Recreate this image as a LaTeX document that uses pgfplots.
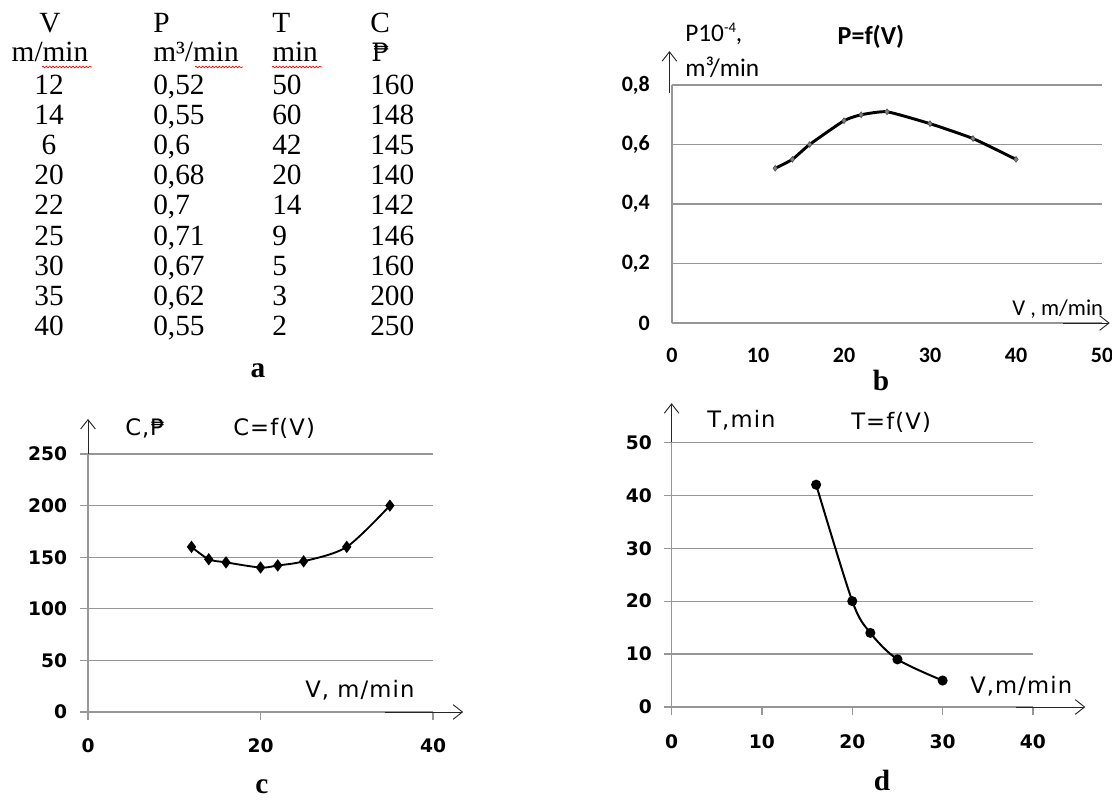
\documentclass[border=0pt]{standalone}
\usepackage{pgfplots}
\pgfplotsset{compat=1.18}
\usepackage{fontspec}
\setmainfont{Liberation Serif}
\newfontfamily\carl{Carlito}
\newfontfamily\dvs{DejaVu Sans}
\newfontfamily\dvsw{DejaVu Sans}[LetterSpace=5]
\newfontfamily\dvserif{DejaVu Serif}
\usetikzlibrary{arrows.meta,decorations.pathmorphing}

\definecolor{gridgray}{RGB}{150,150,150}

\pgfplotsset{
  panel/.style={
    scale only axis,
    anchor=south west,
    axis x line=bottom, axis y line=left,
    axis line style={-, gridgray, line width=0.9pt},
    ymajorgrids, major grid style={gridgray, line width=0.9pt},
    clip=false,
    tick style={gridgray, line width=0.9pt},
    tick align=outside,
    major tick length=6pt,
    /pgf/number format/assume math mode=true,
    xticklabel style={anchor=center, inner sep=0pt},
    yticklabel style={anchor=east, inner sep=0pt},
  },
}
\tikzset{arr/.style={black!85, line width=0.7pt, -{Straight Barb[length=7pt,width=11pt]}}}

\newcommand\tabfont{\fontsize{22}{22}\selectfont}
\newcommand\chfont{\dvsw\fontsize{17}{17}\selectfont}

\begin{document}
\begin{tikzpicture}
\useasboundingbox (0,0) rectangle (834pt,600.75pt);

% b: P = f(V)
\begin{axis}[panel, at={(504pt,358.5pt)},
  width=322.5pt, height=178.5pt,
  xmin=0, xmax=50, ymin=0, ymax=0.8,
  xtick={0,10,20,30,40,50}, ytick={0,0.2,0.4,0.6,0.8},
  major tick length=0pt,
  /pgf/number format/use comma, /pgf/number format/fixed,
  /pgf/number format/precision=1,
  xticklabel style={font=\carl\bfseries\fontsize{16.5}{16.5}\selectfont, yshift=-24.4pt},
  yticklabel style={font=\carl\bfseries\fontsize{16.5}{16.5}\selectfont, xshift=-16.5pt},
]
\addplot[black, line width=2.2pt, smooth, tension=0.3, mark=diamond*, mark size=2.2pt,
  mark options={fill=gray, draw=gray!60!black, line width=0.4pt}]
coordinates {
(12,0.52)
(14,0.55)
(16,0.6)
(20,0.68)
(22,0.7)
(25,0.71)
(30,0.67)
(35,0.62)
(40,0.55)
};
\draw[arr] (axis cs:-0.3,0.773) -- (axis cs:-0.3,0.914);
\draw[arr] (axis cs:45.5,0) -- (axis cs:50.9,0);
\end{axis}

% c: C = f(V)
\begin{axis}[panel, at={(66pt,66.75pt)},
  width=258.75pt, height=193.5pt,
  xmin=0, xmax=40, ymin=0, ymax=250,
  xtick={0,20,40}, ytick={0,50,100,150,200,250},
  xticklabel style={font=\dvs\bfseries\fontsize{14}{14}\selectfont, yshift=-19.25pt},
  yticklabel style={font=\dvs\bfseries\fontsize{14}{14}\selectfont, xshift=-9.5pt},
]
\addplot[black, line width=1.4pt, smooth, tension=0.5, mark=diamond*, mark size=3.5pt]
coordinates {
(12,160)
(14,148)
(16,145)
(20,140)
(22,142)
(25,146)
(30,160)
(35,200)
};
\draw[arr] (axis cs:0,250) -- (axis cs:0,284);
\draw[arr] (axis cs:34.4,0) -- (axis cs:43.5,0);
\end{axis}

% d: T = f(V)
\begin{axis}[panel, at={(503.7pt,70.5pt)},
  width=271pt, height=198.5pt,
  xmin=0, xmax=40, ymin=0, ymax=50,
  xtick={0,10,20,30,40}, ytick={0,10,20,30,40,50},
  xticklabel style={font=\dvs\bfseries\fontsize{14}{14}\selectfont, yshift=-20pt},
  yticklabel style={font=\dvs\bfseries\fontsize{14}{14}\selectfont, xshift=-8.7pt},
]
\addplot[black, line width=1.5pt, smooth, tension=0.5, mark=*, mark size=3pt]
coordinates {
(16,42)
(20,20)
(22,14)
(25,9)
(30,5)
};
\draw[arr] (axis cs:0,50) -- (axis cs:0,57.4);
\draw[arr] (axis cs:38.1,0) -- (axis cs:45.8,0);
\end{axis}

% texts, placed in pixel units (y downwards)
\begin{scope}[x=0.75pt, y=-0.75pt, yshift=600.75pt]
  % a: table
  \node[anchor=base, inner sep=0pt, font=\tabfont] at (50,33) {V};
  \node[anchor=base west, inner sep=0pt, font=\tabfont] at (153,33) {P};
  \node[anchor=base west, inner sep=0pt, font=\tabfont] at (272,33) {T};
  \node[anchor=base west, inner sep=0pt, font=\tabfont] at (370,33) {C};
  \node[anchor=base, inner sep=0pt, font=\tabfont] at (50,62) {m/min};
  \node[anchor=base west, inner sep=0pt, font=\tabfont] at (153,62) {m³/min};
  \node[anchor=base west, inner sep=0pt, font=\tabfont] at (272,62) {min};
  \node[anchor=base west, inner sep=0pt, font=\dvserif\fontsize{19}{19}\selectfont] at (371,62) {₱};
  \foreach \v/\p/\t/\c [count=\i from 0] in
    {12/{0,52}/50/160, 14/{0,55}/60/148, 6/{0,6}/42/145, 20/{0,68}/20/140,
     22/{0,7}/14/142, 25/{0,71}/9/146, 30/{0,67}/5/160, 35/{0,62}/3/200,
     40/{0,55}/2/250} {
    \node[anchor=base, inner sep=0pt, font=\tabfont] at (49,95+30*\i) {\v};
    \node[anchor=base west, inner sep=0pt, font=\tabfont] at (153,95+30*\i) {\p};
    \node[anchor=base west, inner sep=0pt, font=\tabfont] at (272,95+30*\i) {\t};
    \node[anchor=base west, inner sep=0pt, font=\tabfont] at (370,95+30*\i) {\c};
  }
  \foreach \a/\b in {42/92, 195/243, 272/322}
    \draw[red, line width=0.5pt, decorate,
      decoration={snake, amplitude=0.6pt, segment length=2.5pt}] (\a,67) -- (\b,67);
  \node[anchor=base, inner sep=0pt, font=\bfseries\fontsize{22}{22}\selectfont] at (258,377) {a};

  % b labels
  \node[anchor=base west, inner sep=0pt, font=\carl\fontsize{19}{19}\selectfont] at (685,42)
    {P10\raisebox{7pt}{\fontsize{11}{11}\selectfont -4},};
  \node[anchor=base west, inner sep=0pt, font=\carl\fontsize{19}{19}\selectfont] at (685,77) {m³/min};
  \node[anchor=base, inner sep=0pt, font=\carl\bfseries\fontsize{19.5}{19.5}\selectfont] at (871,45) {P=f(V)};
  \node[anchor=base west, inner sep=0pt, font=\carl\fontsize{17}{17}\selectfont] at (1012,315) {V , m/min};
  \node[anchor=base, inner sep=0pt, font=\bfseries\fontsize{22}{22}\selectfont] at (881,390) {b};

  % c labels
  \node[anchor=base west, inner sep=0pt, font=\chfont] at (125,435) {C,₱};
  \node[anchor=base west, inner sep=0pt, font=\chfont] at (233,435) {C=f(V)};
  \node[anchor=base west, inner sep=0pt, font=\chfont] at (305,697) {V, m/min};
  \node[anchor=base, inner sep=0pt, font=\bfseries\fontsize{22}{22}\selectfont] at (262,793) {c};

  % d labels
  \node[anchor=base west, inner sep=0pt, font=\chfont] at (707,427) {T,min};
  \node[anchor=base west, inner sep=0pt, font=\chfont] at (851,429) {T=f(V)};
  \node[anchor=base west, inner sep=0pt, font=\chfont] at (970,693.5) {V,m/min};
  \node[anchor=base, inner sep=0pt, font=\bfseries\fontsize{22}{22}\selectfont] at (882,790) {d};
\end{scope}
\end{tikzpicture}
\end{document}
